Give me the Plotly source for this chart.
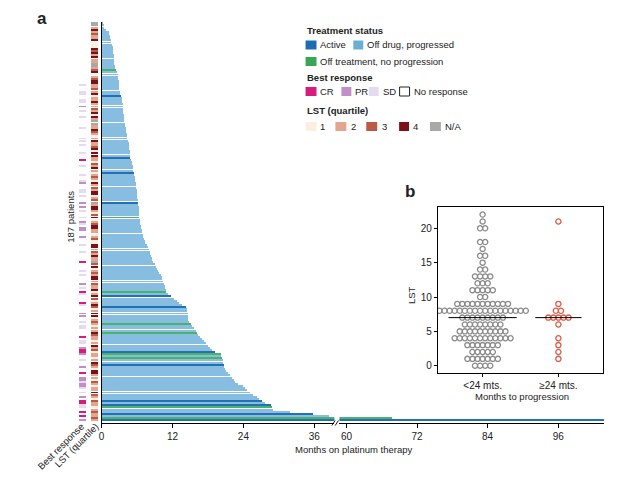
import numpy as np
import plotly.graph_objects as go

# page is 632x486; the html body adds an 8px margin, so the figure is drawn
# 16px smaller and every position below is given in page pixels.
PAGE_W, PAGE_H = 632, 486
OFF = 8
W, H = PAGE_W - 2 * OFF, PAGE_H - 2 * OFF

# ---------------- data: panel a (swimmer plot) ----------------
months_on_therapy = [
    0.1, 0.2, 0.4, 0.7, 1.1, 1.2, 1.3, 1.4, 1.5, 1.6,
    1.7, 1.8, 1.8, 1.9, 1.9, 2.0, 2.0, 2.0, 2.1, 2.1,
    2.2, 2.2, 2.3, 2.5, 2.7, 2.7, 2.7, 2.8, 2.8, 2.8,
    2.9, 2.9, 3.0, 3.1, 3.2, 3.3, 3.4, 3.4, 3.5, 3.5,
    3.5, 3.6, 3.6, 3.7, 3.7, 3.8, 3.8, 3.9, 3.9, 4.0,
    4.0, 4.1, 4.2, 4.3, 4.3, 4.4, 4.5, 4.5, 4.6, 4.6,
    4.7, 4.7, 4.8, 4.8, 4.9, 5.0, 5.1, 5.2, 5.3, 5.3,
    5.4, 5.4, 5.5, 5.5, 5.6, 5.7, 5.8, 5.8, 5.9, 5.9,
    6.0, 6.0, 6.0, 6.1, 6.1, 6.1, 6.2, 6.2, 6.2, 6.3,
    6.3, 6.3, 6.4, 6.4, 6.5, 6.6, 6.6, 6.7, 6.8, 6.9,
    7.0, 7.1, 7.2, 7.3, 7.6, 7.8, 8.0, 8.1, 8.2, 8.3,
    8.4, 8.5, 8.7, 8.9, 9.1, 9.3, 9.5, 9.7, 9.9, 10.1,
    10.2, 10.4, 10.5, 10.6, 10.7, 10.8, 10.9, 11.2, 11.7, 12.2,
    12.7, 13.1, 13.6, 14.2, 14.3, 14.4, 14.5, 14.5, 14.6, 14.6,
    14.7, 15.0, 15.3, 15.6, 15.9, 16.1, 16.3, 16.6, 17.0, 17.2,
    17.6, 17.9, 18.2, 18.6, 19.2, 20.1, 20.2, 20.3, 20.4, 20.5,
    20.6, 20.7, 20.8, 21.0, 21.3, 21.7, 22.0, 22.3, 22.5, 23.0,
    23.8, 24.2, 24.6, 25.1, 25.5, 26.2, 26.6, 27.1, 27.6, 28.6,
    28.8, 29.0, 31.8, 35.7, 38.4, 67.8, 104.0,
]
active_patients = [34, 63, 70, 84, 128, 133, 154, 160, 177, 179, 183, 186]
no_progression_patients = [22, 91, 126, 141, 145, 155, 157, 180, 185]

# 0 = No response, 1 = SD, 2 = PR, 3 = CR
best_response = [
    0, 0, 0, 0, 0, 0, 0, 0, 0, 0,
    0, 0, 0, 0, 0, 0, 0, 0, 0, 0,
    0, 0, 0, 0, 0, 0, 0, 0, 0, 1,
    0, 0, 1, 1, 0, 0, 1, 1, 0, 2,
    0, 1, 0, 0, 1, 0, 0, 0, 0, 1,
    0, 0, 0, 0, 1, 1, 0, 1, 0, 0,
    0, 1, 0, 0, 3, 0, 0, 1, 0, 0,
    0, 1, 0, 0, 1, 2, 0, 0, 1, 1,
    0, 1, 0, 0, 2, 0, 2, 0, 1, 0,
    0, 1, 0, 2, 1, 0, 2, 2, 0, 0,
    2, 0, 0, 0, 1, 0, 0, 1, 0, 0,
    0, 0, 3, 0, 0, 0, 1, 0, 1, 0,
    0, 0, 2, 0, 1, 0, 3, 1, 0, 0,
    0, 3, 1, 0, 0, 0, 2, 2, 0, 0,
    1, 0, 1, 1, 0, 0, 0, 3, 0, 1,
    1, 0, 2, 3, 3, 2, 0, 0, 1, 0,
    0, 2, 0, 0, 3, 0, 2, 2, 1, 2,
    2, 1, 0, 1, 0, 2, 0, 3, 3, 1,
    1, 0, 3, 0, 3, 0, 2,
]
# 0 = N/A, 1..4 = quartile
lst_quartile = [
    0, 0, 2, 4, 2, 3, 2, 2, 4, 1,
    1, 1, 4, 3, 4, 2, 4, 2, 2, 0,
    0, 2, 3, 4, 1, 2, 3, 4, 4, 2,
    2, 3, 2, 4, 1, 2, 2, 4, 2, 2,
    3, 2, 4, 1, 4, 2, 0, 0, 2, 2,
    4, 3, 2, 1, 2, 4, 2, 2, 3, 4,
    1, 4, 4, 2, 2, 1, 3, 2, 4, 2,
    1, 2, 3, 2, 1, 4, 2, 3, 2, 4,
    4, 1, 2, 3, 0, 2, 4, 4, 2, 1,
    3, 4, 1, 2, 3, 4, 4, 2, 2, 1,
    2, 3, 1, 1, 4, 4, 2, 3, 2, 4,
    2, 2, 0, 3, 4, 1, 2, 3, 2, 4,
    4, 2, 3, 2, 2, 4, 1, 2, 4, 3,
    1, 2, 4, 3, 1, 2, 4, 4, 1, 2,
    3, 2, 1, 2, 2, 4, 3, 2, 2, 1,
    2, 4, 2, 3, 1, 2, 2, 1, 2, 4,
    3, 2, 1, 4, 4, 2, 2, 1, 3, 2,
    1, 2, 2, 4, 3, 2, 1, 3, 2, 2,
    1, 2, 3, 2, 2, 3, 2,
]
assert len(months_on_therapy) == 187
assert len(best_response) == 187
assert len(lst_quartile) == 187

status_names = ["Active", "Off drug, progressed", "Off treatment, no progression"]
status_colors = ["#1d6cb1", "#6aaed6", "#3aa655"]
response_names = ["No response", "SD", "PR", "CR"]
response_colors = ["#ffffff", "#e4dbee", "#c28ec6", "#d81b7d"]
lst_names = ["N/A", "1", "2", "3", "4"]
lst_colors = ["#a8a8a8", "#fbefdf", "#e2a58f", "#bb5a44", "#7b1018"]

# x ticks of the broken axis
ticks_left = [0, 12, 24, 36]
ticks_right = [60, 72, 84, 96]

# ---------------- data: panel b (LST beeswarm) ----------------
lst_levels = list(range(23))
lst_count_lt24 = [4, 7, 5, 7, 12, 10, 8, 9, 18, 11, 2, 5, 3, 4, 2, 1, 2, 1, 2, 0, 2, 1, 1]
lst_count_ge24 = [0, 1, 1, 1, 1, 0, 1, 5, 2, 1, 0, 0, 0, 0, 0, 0, 0, 0, 0, 0, 0, 1, 0]
group_labels = ["<24 mts.", "≥24 mts."]
group_colors = ["#8a8a8a", "#dc5a43"]
lst_ticks = [0, 5, 10, 15, 20]

FONT = "Liberation Sans, Arial, sans-serif"
TXT = "#222222"
BAR_W = 0.45
# bar fills (slightly lighter than legend swatches: thin striped bars read lighter)
bar_fill = ["#2470b4", "#86bde0", "#4bb266"]


def px(x):
    return (x - OFF) / W


def py(y):
    return 1 - (y - OFF) / H


n = len(months_on_therapy)
rows = list(range(n))
status = [1] * n
for i in active_patients:
    status[i] = 0
for i in no_progression_patients:
    status[i] = 2
bar_colors = [bar_fill[s] for s in status]

fig = go.Figure()

for xa in ["x", "x2"]:
    fig.add_trace(go.Bar(
        x=months_on_therapy, y=rows, base=0, orientation="h",
        width=BAR_W, marker=dict(color=bar_colors, line=dict(width=0)),
        xaxis=xa, yaxis="y", showlegend=False, hoverinfo="x+y",
    ))

# annotation strips (x3 axis is measured in page pixels)
br_colors = [response_colors[v] for v in best_response]
lst_cols = [lst_colors[v] for v in lst_quartile]
for base, length, cols in [(77, 6.3, br_colors), (88.3, 6.8, lst_cols)]:
    fig.add_trace(go.Bar(
        x=[length] * n, y=rows, base=base, orientation="h", width=BAR_W,
        marker=dict(color=cols, line=dict(width=0)),
        xaxis="x3", yaxis="y", showlegend=False, hoverinfo="skip",
    ))

# ---- panel b beeswarm ----
spacing = 0.067
for g, counts in enumerate([lst_count_lt24, lst_count_ge24]):
    xs, ys = [], []
    vals = []
    for v, c in zip(lst_levels, counts):
        for k in range(c):
            xs.append(g + (k - (c - 1) / 2) * spacing)
            ys.append(v)
            vals.append(v)
    fig.add_trace(go.Scatter(
        x=xs, y=ys, mode="markers", xaxis="x4", yaxis="y4",
        marker=dict(symbol="circle-open", size=5.2, color=group_colors[g],
                    line=dict(width=1.3, color=group_colors[g])),
        showlegend=False,
    ))
    med = float(np.median(vals))
    hw = 0.45 if g == 0 else 0.305
    fig.add_trace(go.Scatter(
        x=[g - hw, g + hw], y=[med, med], mode="lines", xaxis="x4", yaxis="y4",
        line=dict(color="black", width=1), showlegend=False, hoverinfo="skip",
    ))

axis_common = dict(showgrid=False, zeroline=False, showline=True, linecolor="black",
                   linewidth=1, ticks="outside", ticklen=4, tickcolor="black",
                   tickfont=dict(size=10, color=TXT, family=FONT))

fig.update_layout(
    width=W, height=H, margin=dict(l=0, r=0, t=0, b=0),
    paper_bgcolor="white", plot_bgcolor="rgba(0,0,0,0)",
    font=dict(family=FONT, size=10, color=TXT),
    bargap=0, barmode="overlay", showlegend=False,
    xaxis=dict(domain=[px(99), px(333)], range=[0, 39.4], anchor="y",
               tickvals=ticks_left, **axis_common),
    xaxis2=dict(domain=[px(338), px(604)], range=[58.8, 103.8], anchor="y",
                tickvals=ticks_right, **axis_common),
    xaxis3=dict(domain=[px(74.5), px(97)], range=[74.5, 97], anchor="y", visible=False),
    yaxis=dict(domain=[py(423), py(22)], range=[187.3, -0.6], anchor="x",
               showgrid=False, zeroline=False, showline=True, linecolor="black",
               linewidth=1, showticklabels=False, ticks=""),
    xaxis4=dict(domain=[px(437), px(603)], range=[-0.59, 1.59], anchor="y4",
                tickvals=[0, 1], ticktext=group_labels, mirror=True,
                **{**axis_common, "ticklen": 3}),
    yaxis4=dict(domain=[py(373), py(207)], range=[-1.06, 23.1], anchor="x4",
                tickvals=lst_ticks, mirror=True, **{**axis_common, "ticklen": 3}),
)

shapes = []
annotations = []


def text(x, y, s, size=9.5, bold=False, xanchor="left", angle=0):
    annotations.append(dict(
        x=px(x), y=py(y), xref="paper", yref="paper", showarrow=False,
        text=f"<b>{s}</b>" if bold else s, xanchor=xanchor, yanchor="middle",
        textangle=angle, font=dict(size=size, color=TXT, family=FONT), borderpad=0,
    ))


def square(x0, y0, x1, y1, color, outline=None):
    shapes.append(dict(
        type="rect", xref="paper", yref="paper", x0=px(x0), x1=px(x1), y0=py(y1), y1=py(y0),
        fillcolor=color, line=dict(width=1 if outline else 0, color=outline or color),
    ))


# panel letters
text(39.5, 19, "a", size=17, bold=True, xanchor="center")
text(408.5, 191, "b", size=17, bold=True, xanchor="center")

# axis titles
text(352, 449, "Months on platinum therapy", size=9.5, xanchor="center")
text(67, 217, "187 patients", size=9.5, xanchor="center", angle=-90)
text(57.5, 446, "Best response", size=9.5, xanchor="center", angle=-45)
text(73.5, 445.5, "LST (quartile)", size=9.5, xanchor="center", angle=-45)
text(521.5, 396, "Months to progression", size=9.5, xanchor="center")
text(410, 295, "LST", size=9.5, xanchor="center", angle=-90)

# broken-axis marks
for x0 in (330.5, 333.8):
    shapes.append(dict(type="line", xref="paper", yref="paper",
                       x0=px(x0), y0=py(425.5), x1=px(x0 + 3.2), y1=py(420.5),
                       line=dict(color="black", width=0.9)))

# legend
text(304, 30.5, "Treatment status", bold=True)
square(304, 40.5, 315, 49.5, status_colors[0])
text(318, 45, status_names[0])
square(352, 40.5, 362, 49.5, status_colors[1])
text(365, 45, status_names[1])
square(304, 57, 315, 66, status_colors[2])
text(318, 61.5, status_names[2])

text(304, 77, "Best response", bold=True)
resp_layout = [(3, 304, 315, 318), (2, 340, 350, 352.5), (1, 367.5, 377.5, 380.5), (0, 398.5, 408.5, 411.5)]
for code, x0, x1, tx in resp_layout:
    square(x0, 87, x1, 96, response_colors[code],
           outline="#222222" if code == 0 else None)
    text(tx, 91.5, {3: "CR", 2: "PR", 1: "SD", 0: "No response"}[code])

text(304, 110.5, "LST (quartile)", bold=True)
lst_layout = [(1, 304, 315, 318), (2, 334, 345, 349), (3, 365, 376, 380),
              (4, 398, 408, 411), (0, 429, 440, 443)]
for code, x0, x1, tx in lst_layout:
    square(x0, 122, x1, 131, lst_colors[code])
    text(tx, 126.5, lst_names[code])

fig.update_layout(shapes=shapes, annotations=annotations)
fig.write_html("out.html")
